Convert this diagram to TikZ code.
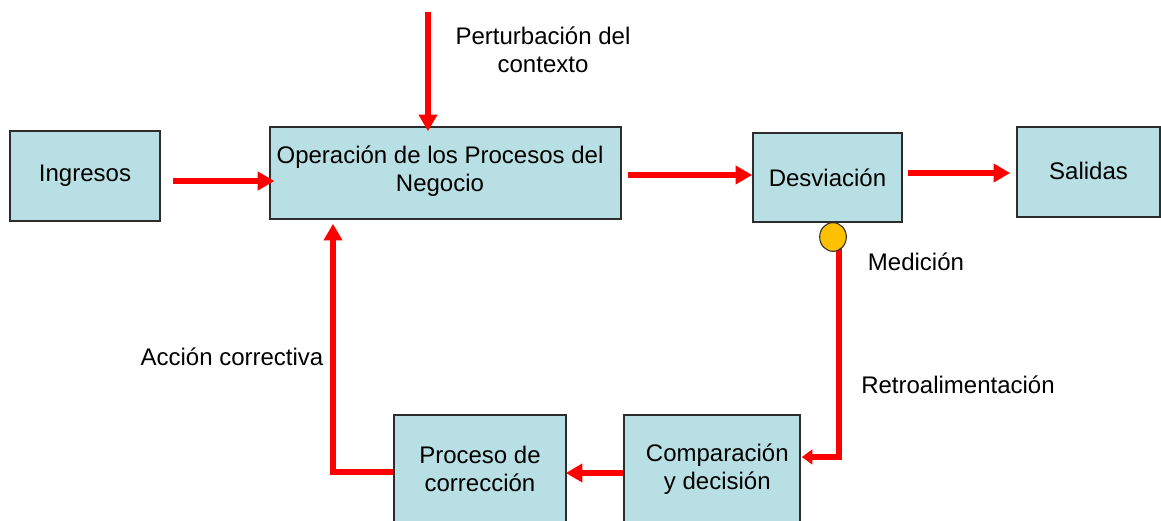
\documentclass[tikz,border=0pt]{standalone}
\usepackage{fontspec}
\setmainfont{Liberation Sans}
\usetikzlibrary{arrows.meta,calc,shapes.geometric}
\definecolor{boxfill}{RGB}{184,223,227}
\definecolor{boxline}{RGB}{45,45,45}
\definecolor{medfill}{RGB}{255,192,0}
\begin{document}
\begin{tikzpicture}[x=0.75pt,y=-0.75pt,
  every node/.style={font=\fontsize{18}{21}\selectfont, text=black},
  blk/.style={draw=boxline, fill=boxfill, line width=1.2pt, rectangle, inner sep=0pt, align=center},
  redline/.style={draw=red, line width=3.8pt},
  bigarr/.style={redline, -{Triangle[length=12.5pt,width=13.5pt]}},
  smallarr/.style={redline, -{Triangle[length=8pt,width=11pt]}},
  lbl/.style={align=center, inner sep=0pt}]
\useasboundingbox (0,0) rectangle (1161,521);
% boxes
\node[blk, minimum width=112.5pt, minimum height=67.5pt] (ing) at (85,176) {Ingresos};
\node[blk, minimum width=263pt, minimum height=69pt] (op) at (445.5,173) {};
\node[lbl] (optext) at (440,171) {Operación de los Procesos del\\Negocio};
\node[blk, minimum width=111.75pt, minimum height=66.75pt] (desv) at (827.5,177.5) {Desviación};
\node[blk, minimum width=107.25pt, minimum height=67.5pt] (sal) at (1088.5,172) {\raisebox{1.5pt}{Salidas}};
\node[blk, minimum width=129pt, minimum height=81pt] (proc) at (480,469) {Proceso de\\corrección};
\node[blk, minimum width=132pt, minimum height=81pt] (comp) at (712,469) {\hspace*{8pt}Comparación\\\hspace*{8pt}y decisión};
% measurement point position
\coordinate (medc) at (833,237);
\coordinate (fbk) at ($(medc)+(6,8)$);
% feedback line (drawn below the circle)
\draw[smallarr] (fbk) |- ($(comp.east)+(1,-12)$);
\node[ellipse, draw=boxline, fill=medfill, line width=0.8pt, minimum width=20pt, minimum height=21.5pt, inner sep=0pt] (med) at (medc) {};
% labels
\node[lbl] (pert) at (543,50) {Perturbación del\\contexto};
\node[lbl] (medl) at (916,262) {Medición};
\node[lbl] (retro) at (958,385) {Retroalimentación};
\node[lbl] (acc) at (232,357) {Acción correctiva};
% connectors
\coordinate (ptop) at (428,12);
\draw[bigarr] ($(ing.east)+(12,5)$) -- ($(op.west |- ing.east)+(5,5)$);
\draw[bigarr] (ptop) -- ($(op.north -| ptop)+(0,5)$);
\draw[bigarr] ($(op.east)+(6,2)$) -- ($(desv.west)+(0,-2.5)$);
\draw[bigarr] ($(desv.east)+(5,-4.5)$) -- ($(sal.west)+(-6,1)$);
\draw[bigarr] ($(comp.west)+(0,4)$) -- ($(proc.east)+(-1,4)$);
\draw[bigarr] ($(proc.west)+(0,3)$) -| ($(op.south -| 333,0)+(0,4)$);
\end{tikzpicture}
\end{document}
